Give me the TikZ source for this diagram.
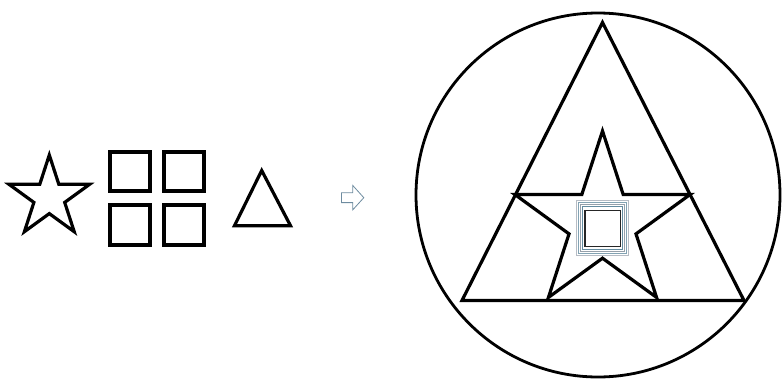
\documentclass[tikz,border=0pt]{standalone}
\usetikzlibrary{calc}
\definecolor{arrowc}{RGB}{110,140,160}
\definecolor{sqgray}{RGB}{150,160,170}
\definecolor{sqblue}{RGB}{100,140,160}
\tikzset{
  shape line/.style={draw=black, line width=3.2pt, line join=miter},
}
\begin{document}
\begin{tikzpicture}[x=1pt,y=-1pt]
\useasboundingbox (0,0) rectangle (784,383);
% left star
\coordinate (sc) at (49.3,197.4);
\draw[shape line] ($(sc)+(-90:42.4)$)
  \foreach \k in {1,...,9}{
    -- ($(sc)+({-90+36*\k}:{42.4-(42.4-16.2)*mod(\k,2)})$)
  } -- cycle;
% four squares
\coordinate (sq1a) at (110,152); \coordinate (sq1b) at (150,191);
\coordinate (sq2a) at (164,152); \coordinate (sq2b) at (204,191);
\coordinate (sq3a) at (110,205); \coordinate (sq3b) at (150,245);
\coordinate (sq4a) at (164,205); \coordinate (sq4b) at (204,245);
\draw[shape line] (sq1a) rectangle (sq1b);
\draw[shape line] (sq2a) rectangle (sq2b);
\draw[shape line] (sq3a) rectangle (sq3b);
\draw[shape line] (sq4a) rectangle (sq4b);
% small triangle
\coordinate (t1) at (261.7,170.5); \coordinate (t2) at (234.5,225.7); \coordinate (t3) at (290.5,225.7);
\draw[shape line] (t1) -- (t2) -- (t3) -- cycle;
% arrow
\draw[arrowc, line width=0.8pt, line join=miter]
  (341.5,192.8) -- (352.8,192.8) -- (352.8,185.5) -- (363.8,197.7) -- (352.8,209.8) -- (352.8,202.6) -- (341.5,202.6) -- cycle;
% big circle
\coordinate (cc) at (598,195);
\draw[black, line width=2.8pt] (cc) circle (182);
% big triangle
\coordinate (T1) at (602.5,22.5); \coordinate (T2) at (462,300.5); \coordinate (T3) at (744,300.5);
\draw[shape line] (T1) -- (T2) -- (T3) -- cycle;
% big star
\coordinate (bc) at (602.5,223);
\draw[shape line] ($(bc)+(-90:92)$)
  \foreach \k in {1,...,9}{
    -- ($(bc)+({-90+36*\k}:{92-(92-35.2)*mod(\k,2)})$)
  } -- cycle;
% nested squares
\draw[sqgray!70, line width=0.9pt] (576.5,200.5) rectangle (628.5,255.5);
\draw[sqblue!80, line width=0.9pt] (578.5,202.5) rectangle (626.5,253.5);
\draw[sqgray, line width=0.9pt] (580.5,204.5) rectangle (624.5,251.5);
\draw[sqblue, line width=0.9pt] (582.5,206.5) rectangle (622.5,249);
\draw[black!85, line width=1.6pt] (585,210.5) rectangle (620.5,246.5);
\end{tikzpicture}
\end{document}
